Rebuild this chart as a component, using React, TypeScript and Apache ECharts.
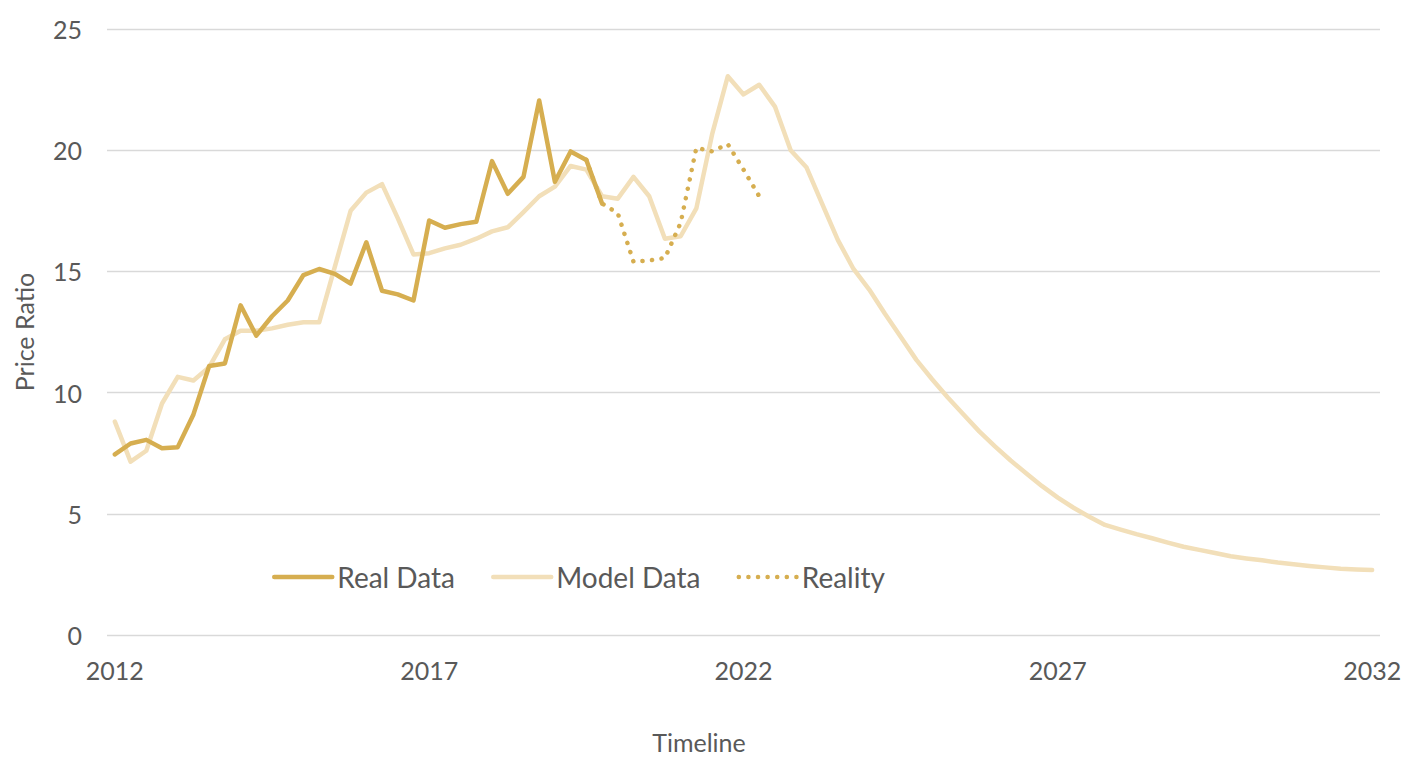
import React, { useEffect, useRef } from "react";
import * as echarts from "echarts";

// ---- Data (quarterly, 2012 Q1 .. 2032 Q1) ----
const firstYear = 2012;
const lastYear = 2032;
const tickYears = ["2012", "2017", "2022", "2027", "2032"];

const realData: number[] = [
  7.45, 7.9, 8.05, 7.7, 7.75, 9.1, 11.1, 11.2, 13.6, 12.35, 13.15, 13.8, 14.85, 15.1, 14.9, 14.5,
  16.2, 14.2, 14.05, 13.8, 17.1, 16.8, 16.95, 17.05, 19.55, 18.2, 18.9, 22.05, 18.7, 19.95, 19.6, 17.8,
];

const modelData: number[] = [
  8.8, 7.15, 7.6, 9.55, 10.65, 10.5, 11.05, 12.2, 12.55, 12.55, 12.65, 12.8, 12.9, 12.9, 15.2, 17.5,
  18.25, 18.6, 17.2, 15.7, 15.75, 15.95, 16.1, 16.35, 16.65, 16.82, 17.45, 18.1, 18.5, 19.35, 19.2, 18.1,
  18.0, 18.9, 18.1, 16.35, 16.45, 17.6, 20.65, 23.05, 22.3, 22.7, 21.8, 20.0, 19.3, 17.8, 16.3, 15.1,
  14.25, 13.25, 12.3, 11.35, 10.55, 9.8, 9.1, 8.4, 7.78, 7.2, 6.66, 6.14, 5.67, 5.25, 4.88, 4.54,
  4.35, 4.16, 3.99, 3.81, 3.64, 3.51, 3.38, 3.25, 3.16, 3.08, 2.99, 2.92, 2.85, 2.79, 2.73, 2.7, 2.68,
];

const realityStartIndex = 30;
const realityData: number[] = [19.6, 17.8, 17.4, 15.4, 15.45, 15.55, 17.0, 20.1, 19.95, 20.25, 19.2, 18.1];

const seriesNames = ["Real Data", "Model Data", "Reality"];

const categories: string[] = [];
for (let y = firstYear; y <= lastYear; y++) {
  for (let q = 1; q <= 4; q++) {
    if (y === lastYear && q > 1) break;
    categories.push(`${y} Q${q}`);
  }
}

const GOLD = "#D6AE50";
const BEIGE = "#F2DFB9";
const TEXT = "#595959";
const GRID = "#D9D9D9";
const FONT = "Lato";

export default function App() {
  const ref = useRef<HTMLDivElement>(null);

  useEffect(() => {
    if (!ref.current) return;
    const chart = echarts.init(ref.current, undefined, { renderer: "svg" });

    const realityFull: (number | null)[] = [
      ...new Array(realityStartIndex).fill(null),
      ...realityData,
    ];

    chart.setOption({
      animation: false,
      backgroundColor: "#ffffff",
      textStyle: { fontFamily: FONT },
      grid: {
        left: 107,
        right: 27,
        top: 29,
        bottom: 123,
        containLabel: false,
        outerBoundsMode: "none",
      },
      legend: {
        data: seriesNames,
        left: 267,
        top: 558,
        itemWidth: 58,
        itemHeight: 14,
        itemGap: 36,
        itemStyle: { opacity: 0 },
        lineStyle: { width: 4.5, cap: "round" },
        textStyle: { color: TEXT, fontSize: 28, fontFamily: FONT, lineHeight: 28 },
      },
      xAxis: {
        type: "category",
        data: categories,
        boundaryGap: true,
        axisLine: { show: false },
        axisTick: { show: false },
        splitLine: { show: false },
        axisLabel: {
          interval: 19,
          margin: 22,
          color: TEXT,
          fontSize: 25,
          fontFamily: FONT,
          formatter: (v: string) => {
            const yr = v.slice(0, 4);
            return tickYears.includes(yr) ? yr : "";
          },
        },
      },
      yAxis: {
        type: "value",
        min: 0,
        max: 25,
        interval: 5,
        name: "Price Ratio",
        nameLocation: "middle",
        nameGap: 71,
        nameRotate: 90,
        nameTextStyle: { color: TEXT, fontSize: 25, fontFamily: FONT },
        axisLine: { show: false },
        axisTick: { show: false },
        axisLabel: { color: TEXT, fontSize: 25, fontFamily: FONT, margin: 25 },
        splitLine: { lineStyle: { color: GRID, width: 1.3 } },
      },
      graphic: [
        {
          type: "text",
          x: 699,
          y: 742,
          style: {
            text: "Timeline",
            fill: TEXT,
            font: `25px ${FONT}`,
            align: "center",
            verticalAlign: "middle",
          },
        },
      ],
      series: [
        {
          name: seriesNames[1],
          type: "line",
          data: modelData,
          symbol: "none",
          z: 2,
          lineStyle: { color: BEIGE, width: 4.5, cap: "round", join: "round" },
          itemStyle: { color: BEIGE },
        },
        {
          name: seriesNames[0],
          type: "line",
          data: realData,
          symbol: "none",
          z: 3,
          lineStyle: { color: GOLD, width: 4.5, cap: "round", join: "round" },
          itemStyle: { color: GOLD },
        },
        {
          name: seriesNames[2],
          type: "line",
          data: realityFull,
          symbol: "none",
          z: 4,
          lineStyle: { color: GOLD, width: 4.5, type: [0.1, 9.5], cap: "round", join: "round" },
          itemStyle: { color: GOLD },
        },
      ],
    });

    return () => chart.dispose();
  }, []);

  return (
    <div
      ref={ref}
      style={{ position: "fixed", left: 0, top: 0, width: 1407, height: 758, background: "#fff" }}
    />
  );
}
